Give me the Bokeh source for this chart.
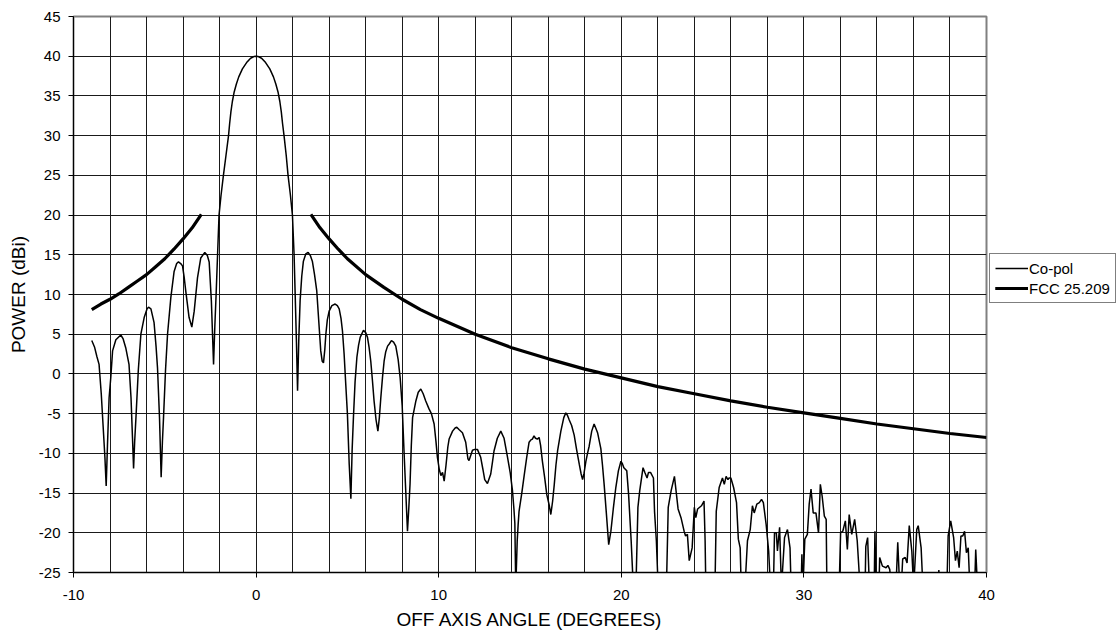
from bokeh.plotting import figure
from bokeh.models import Range1d, FixedTicker, Legend, LegendItem, CustomJSTickFormatter
from bokeh.embed import file_html
from bokeh.resources import INLINE

# ---------------- data ----------------
x_tick_labels = [-10, 0, 10, 20, 30, 40]
x_grid_lines = [-10, -8, -6, -4, -2, 0, 2, 4, 6, 8, 10, 12, 14, 16, 18, 20,
                22, 24, 26, 28, 30, 32, 34, 36, 38, 40]
y_tick_labels = [-25, -20, -15, -10, -5, 0, 5, 10, 15, 20, 25, 30, 35, 40, 45]

copol_angle = [
    -9.00, -8.85, -8.72, -8.60, -8.48, -8.38, -8.28, -8.21, -8.14, -8.05,
    -7.96, -7.86, -7.68, -7.41, -7.28, -7.14, -6.96, -6.85, -6.77, -6.71,
    -6.65, -6.58, -6.45, -6.31, -6.13, -5.97, -5.89, -5.76, -5.59, -5.48,
    -5.40, -5.29, -5.20, -5.13, -5.07, -4.96, -4.85, -4.67, -4.49, -4.35,
    -4.25, -4.13, -4.03, -3.94, -3.85, -3.67, -3.52, -3.39, -3.21, -3.03,
    -2.81, -2.67, -2.57, -2.45, -2.33, -2.26, -2.19, -2.11, -2.03, -1.92,
    -1.79, -1.65, -1.51, -1.45, -1.38, -1.30, -1.20, -1.08, -0.95, -0.75,
    -0.52, -0.30, -0.12, 0.00, 0.12, 0.30, 0.52, 0.75, 0.95, 1.08,
    1.20, 1.30, 1.38, 1.45, 1.53, 1.65, 1.75, 1.88, 1.99, 2.08,
    2.14, 2.21, 2.27, 2.34, 2.41, 2.50, 2.59, 2.72, 2.85, 2.97,
    3.08, 3.20, 3.32, 3.45, 3.54, 3.62, 3.69, 3.76, 3.82, 3.90,
    4.00, 4.15, 4.33, 4.45, 4.55, 4.65, 4.73, 4.82, 4.91, 5.00,
    5.10, 5.19, 5.26, 5.33, 5.42, 5.52, 5.61, 5.70, 5.88, 6.00,
    6.10, 6.19, 6.28, 6.37, 6.46, 6.57, 6.67, 6.75, 6.83, 6.92,
    7.01, 7.10, 7.20, 7.30, 7.41, 7.53, 7.65, 7.78, 7.89, 8.00,
    8.10, 8.20, 8.29, 8.36, 8.43, 8.50, 8.57, 8.75, 8.88, 9.02,
    9.15, 9.29, 9.47, 9.60, 9.75, 9.85, 9.93, 10.03, 10.12, 10.21,
    10.30, 10.40, 10.50, 10.57, 10.76, 10.90, 10.99, 11.11, 11.30, 11.48,
    11.60, 11.66, 11.72, 11.85, 11.97, 12.12, 12.30, 12.42, 12.52, 12.67,
    12.85, 12.95, 13.03, 13.21, 13.40, 13.58, 13.77, 13.92, 14.04, 14.12,
    14.17, 14.22, 14.30, 14.35, 14.40, 14.55, 14.68, 14.82, 14.95, 15.05,
    15.13, 15.22, 15.30, 15.40, 15.50, 15.58, 15.68, 15.80, 15.92, 16.05,
    16.14, 16.24, 16.33, 16.42, 16.51, 16.69, 16.85, 16.96, 17.05, 17.15,
    17.28, 17.42, 17.55, 17.70, 17.80, 17.88, 17.96, 18.06, 18.15, 18.24,
    18.38, 18.51, 18.60, 18.70, 18.88, 18.97, 19.06, 19.18, 19.31, 19.43,
    19.56, 19.70, 19.84, 19.98, 20.06, 20.14, 20.22, 20.30, 20.40, 20.54,
    20.66, 20.80, 20.91, 21.01, 21.19, 21.29, 21.41, 21.49, 21.60, 21.76,
    21.82, 21.92, 22.02, 22.47, 22.57, 22.73, 22.91, 23.11, 23.27, 23.44,
    23.52, 23.62, 23.72, 23.88, 24.00, 24.08, 24.18, 24.39, 24.53, 24.59,
    24.63, 25.13, 25.20, 25.36, 25.54, 25.64, 25.74, 25.84, 25.90, 26.00,
    26.15, 26.31, 26.41, 26.51, 26.57, 26.77, 26.91, 27.06, 27.18, 27.28,
    27.42, 27.56, 27.68, 27.78, 27.93, 28.07, 28.17, 28.33, 28.39, 28.49,
    28.55, 28.67, 28.77, 28.94, 29.10, 29.24, 29.30, 29.85, 29.89, 29.95,
    30.05, 30.19, 30.29, 30.39, 30.51, 30.66, 30.80, 30.90, 31.00, 31.12,
    31.22, 31.26, 31.93, 32.01, 32.13, 32.27, 32.38, 32.48, 32.62, 32.78,
    32.92, 33.08, 33.35, 33.39, 33.49, 33.59, 33.85, 33.89, 33.95, 34.11,
    34.15, 34.30, 34.50, 34.60, 34.70, 34.80, 35.04, 35.14, 35.25, 35.33,
    35.41, 35.55, 35.65, 35.77, 35.91, 36.01, 36.18, 36.26, 36.42, 36.52,
    37.33, 37.39, 37.45, 37.83, 37.90, 38.04, 38.20, 38.30, 38.40, 38.50,
    38.60, 38.70, 38.80, 38.90, 39.00, 39.09, 39.35, 39.41, 39.51, 40.00,
]

copol_power = [
    4.2, 3.4, 2.2, 1.2, -2.5, -6.5, -10.5, -14.1, -9.0, -3.0,
    -0.5, 2.9, 4.3, 4.9, 4.4, 3.3, 1.2, -3.0, -8.0, -11.9,
    -8.5, -5.5, 0.5, 5.0, 7.1, 8.2, 8.4, 8.2, 6.5, 3.5,
    0.8, -5.5, -13.0, -8.5, -5.5, 0.5, 5.0, 9.6, 12.9, 13.9,
    14.1, 13.9, 13.6, 12.2, 10.4, 7.1, 5.9, 7.9, 12.1, 14.6,
    15.3, 14.9, 14.1, 9.2, 1.2, 6.0, 10.0, 15.0, 20.0, 22.5,
    25.0, 27.5, 30.0, 31.5, 33.0, 34.3, 35.5, 36.5, 37.4, 38.4,
    39.2, 39.75, 39.95, 40.0, 39.95, 39.75, 39.2, 38.4, 37.4, 36.5,
    35.5, 34.3, 33.0, 31.5, 30.0, 27.5, 25.0, 22.5, 20.0, 15.0,
    10.0, 4.0, -2.1, 4.5, 9.2, 12.3, 14.2, 15.1, 15.3, 14.9,
    14.2, 12.5, 10.5, 6.0, 2.9, 1.6, 1.4, 3.0, 5.0, 6.8,
    7.9, 8.6, 8.8, 8.6, 8.2, 7.0, 5.4, 2.5, -1.3, -5.0,
    -11.4, -15.7, -9.5, -5.5, -1.0, 2.1, 3.6, 4.6, 5.5, 5.2,
    4.6, 3.3, 1.6, -0.8, -3.4, -5.8, -7.2, -5.5, -3.0, -0.5,
    1.6, 2.8, 3.5, 3.8, 4.2, 4.0, 3.5, 1.8, -0.5, -4.0,
    -9.7, -15.0, -19.8, -17.0, -13.9, -9.0, -5.5, -3.4, -2.3, -1.9,
    -2.5, -3.4, -4.4, -5.0, -6.3, -8.5, -10.5, -12.0, -12.8, -12.4,
    -13.5, -11.5, -9.2, -8.2, -7.2, -6.8, -6.7, -7.0, -7.4, -8.6,
    -10.7, -10.9, -10.5, -9.6, -9.5, -9.5, -10.5, -12.0, -13.3, -13.8,
    -12.6, -11.0, -9.7, -8.1, -7.2, -8.1, -10.5, -12.5, -14.7, -17.0,
    -18.8, -27.0, -21.0, -19.0, -17.3, -15.0, -12.8, -10.5, -8.6, -8.3,
    -8.2, -7.8, -8.1, -8.2, -8.0, -9.0, -11.0, -13.0, -15.2, -16.5,
    -17.7, -16.0, -13.9, -11.5, -9.7, -7.2, -5.5, -4.9, -5.2, -5.8,
    -6.5, -7.7, -9.5, -11.4, -12.6, -13.3, -12.5, -11.0, -10.0, -9.1,
    -7.2, -6.3, -6.8, -7.4, -9.4, -11.5, -13.9, -17.5, -21.5, -19.8,
    -17.0, -14.3, -12.2, -11.0, -11.3, -11.8, -12.0, -12.2, -15.2, -21.0,
    -27.0, -27.0, -16.8, -14.7, -11.8, -12.4, -13.1, -12.4, -12.4, -13.1,
    -17.3, -21.0, -27.0, -27.0, -16.8, -14.7, -12.9, -17.0, -18.1, -19.8,
    -20.4, -20.2, -23.5, -21.9, -16.8, -18.1, -17.0, -16.6, -16.0, -21.0,
    -27.0, -27.0, -17.3, -14.3, -13.1, -13.9, -12.9, -13.3, -13.1, -13.1,
    -14.3, -16.2, -20.8, -21.9, -27.0, -27.0, -21.0, -19.6, -16.6, -17.5,
    -16.4, -16.2, -15.8, -16.2, -18.9, -22.3, -27.0, -27.0, -20.0, -20.0,
    -22.3, -19.3, -27.0, -20.6, -19.6, -21.9, -27.0, -27.0, -22.7, -27.0,
    -20.8, -20.2, -16.4, -14.5, -17.5, -17.5, -20.0, -13.9, -15.4, -17.9,
    -18.3, -27.0, -27.0, -20.0, -19.8, -18.5, -22.1, -17.7, -20.2, -18.3,
    -21.0, -27.0, -27.0, -21.7, -20.6, -27.0, -27.0, -19.8, -27.0, -27.0,
    -23.1, -24.2, -24.4, -24.1, -24.6, -27.0, -27.0, -21.2, -27.0, -27.0,
    -23.3, -23.1, -23.8, -19.1, -22.3, -27.0, -19.6, -19.1, -21.9, -27.0,
    -27.0, -24.7, -27.0, -27.0, -20.4, -18.5, -20.6, -23.5, -22.3, -24.4,
    -20.4, -20.4, -19.8, -22.5, -21.9, -27.0, -27.0, -22.1, -27.0, -27.0,
]

fcc_left_angle = [-9.0, -8.5, -8.0, -7.5, -7.0, -6.5, -6.0, -5.5, -5.0, -4.5,
                  -4.0, -3.5, -3.0]
fcc_left_power = [8.1, 8.8, 9.4, 10.1, 10.9, 11.7, 12.5, 13.5, 14.5, 15.7,
                  17.0, 18.4, 20.1]
fcc_right_angle = [3.0, 3.5, 4.0, 4.5, 5.0, 6.0, 7.0, 8.0, 9.0, 10.0, 12.0,
                   14.0, 16.0, 18.0, 20.0, 22.0, 24.0, 26.0, 28.0, 30.0, 32.0,
                   34.0, 36.0, 38.0, 40.0]
fcc_right_power = [20.1, 18.4, 17.0, 15.7, 14.5, 12.5, 10.9, 9.4, 8.1, 7.0,
                   5.0, 3.3, 1.9, 0.6, -0.5, -1.6, -2.5, -3.4, -4.2, -4.9,
                   -5.6, -6.3, -6.9, -7.5, -8.0]

assert len(copol_angle) == len(copol_power)

# ---------------- figure ----------------
FONT = "Liberation Sans"

p = figure(
    frame_width=913, frame_height=556,
    min_border_left=73, min_border_top=16, min_border_bottom=50,
    min_border_right=0,
    x_range=Range1d(-10, 40), y_range=Range1d(-25, 45),
    output_backend="svg", toolbar_location=None,
    background_fill_color="white", border_fill_color="white",
)

p.outline_line_color = "#808080"
p.outline_line_width = 2

# grid
p.xgrid.ticker = FixedTicker(ticks=x_grid_lines)
p.ygrid.ticker = FixedTicker(ticks=y_tick_labels)
for g in (p.xgrid, p.ygrid):
    g.grid_line_color = "#1a1a1a"
    g.grid_line_width = 1

# axes
p.xaxis.ticker = FixedTicker(ticks=x_tick_labels)
p.yaxis.ticker = FixedTicker(ticks=y_tick_labels)
for ax in (p.xaxis, p.yaxis):
    ax.formatter = CustomJSTickFormatter(code="return String(tick);")
    ax.axis_line_color = "black"
    ax.axis_line_width = 1
    ax.major_tick_line_color = "black"
    ax.major_tick_out = 5
    ax.major_tick_in = 0
    ax.minor_tick_line_color = None
    ax.major_label_text_font = FONT
    ax.major_label_text_font_size = "15px"
    ax.major_label_text_color = "black"
    ax.axis_label_text_font = FONT
    ax.axis_label_text_font_size = "19px"
    ax.axis_label_text_font_style = "normal"
    ax.axis_label_text_color = "black"

p.xaxis.axis_label = "OFF AXIS ANGLE (DEGREES)"
p.yaxis.axis_label = "POWER (dBi)"
p.xaxis.major_label_standoff = 12
p.xaxis.axis_label_standoff = 6
p.yaxis.major_label_standoff = 8
p.yaxis.axis_label_standoff = 7

# series
r_co = p.line(copol_angle, copol_power, line_color="black", line_width=1.5)
r_f1 = p.line(fcc_left_angle, fcc_left_power, line_color="black", line_width=3.2)
r_f2 = p.line(fcc_right_angle, fcc_right_power, line_color="black", line_width=3.2)

legend = Legend(
    items=[LegendItem(label="Co-pol", renderers=[r_co]),
           LegendItem(label="FCC 25.209", renderers=[r_f1, r_f2])],
    location=(3, 269),
    border_line_color="black", border_line_width=1,
    background_fill_color="white",
    label_text_font=FONT, label_text_font_size="15px",
    label_text_color="black",
    glyph_width=33, glyph_height=18, label_height=18,
    label_standoff=1, spacing=2, padding=5, margin=4,
)
p.add_layout(legend, "right")

open("out.html", "w").write(file_html(p, INLINE))
